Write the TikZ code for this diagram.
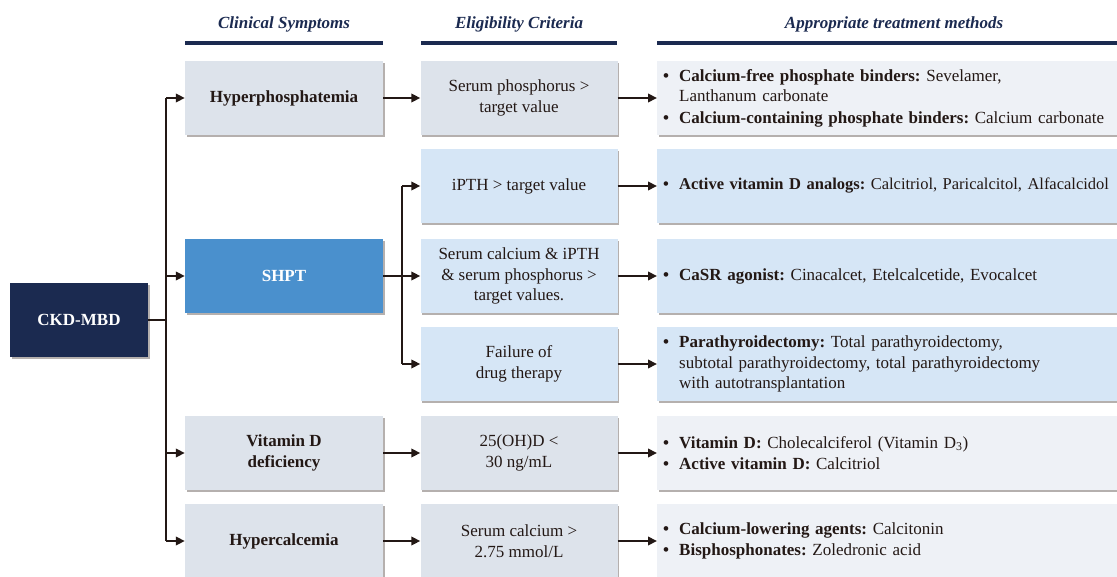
\documentclass[tikz,border=0pt]{standalone}
\usepackage{fontspec}
\setmainfont{Liberation Serif}
\usepackage{tikz}
\usetikzlibrary{calc}
\usetikzlibrary{arrows.meta}
\usetikzlibrary{shadows}

\definecolor{navy}{RGB}{27,42,80}
\definecolor{shptblue}{RGB}{74,144,205}
\definecolor{graybox}{RGB}{221,227,235}
\definecolor{bluebox}{RGB}{214,230,246}
\definecolor{palebox}{RGB}{238,241,246}
\definecolor{ink}{RGB}{35,24,21}
\definecolor{shade}{RGB}{90,80,75}

\frenchspacing
\newcommand\fs{\fontsize{17}{20.5}\selectfont}
\newcommand\bul{\makebox[16pt][l]{\textbf{\textbullet}}}
\newcommand\ind{\hspace*{16pt}}

\tikzset{
  box/.style={rectangle,minimum height=73.5pt,text=ink,align=center,inner sep=4pt,
    drop shadow={shadow xshift=1.5pt,shadow yshift=-2pt,opacity=.45,fill=shade}},
  symbox/.style={box,fill=graybox,minimum width=198pt,font=\fs\bfseries},
  critbox/.style={box,fill=graybox,minimum width=197pt,font=\fs},
  treatbox/.style={box,fill=palebox,anchor=west,inner xsep=6pt,text width=520pt,align=left,font=\fs},
  head/.style={text=navy,font=\fs\bfseries\itshape,anchor=base},
  link/.style={draw=ink,line width=2pt},
  arrow/.style={link,-{Triangle[length=9pt,width=8.5pt]}}
}

\begin{document}
\begin{tikzpicture}[x=1pt,y=-1pt]
\useasboundingbox (0,0) rectangle (1117,577);

\def\ra{98}
\def\rb{186}
\def\rc{276}
\def\rd{364}
\def\re{453}
\def\rf{541}

\node[head] (h1) at (284,29) {Clinical Symptoms};
\node[head] (h2) at (519,29) {Eligibility Criteria};
\node[head] (h3) at (894,29) {Appropriate treatment methods};
\fill[navy] (185,41) rectangle (383,45.5);
\fill[navy] (421,41) rectangle (617,45.5);
\fill[navy] (657,41) rectangle (1117,45.5);

\node[box,fill=navy,text=white,minimum width=138pt,font=\fs\bfseries] (ckd) at (79,320) {CKD-MBD};

\node[symbox] (hyper) at (284,\ra) {Hyperphosphatemia};
\node[symbox,fill=shptblue,text=white] (shpt) at (284,\rc) {SHPT};
\node[symbox] (vitd) at (284,\re) {Vitamin D\\deficiency};
\node[symbox] (hyperca) at (284,\rf) {Hypercalcemia};

\node[critbox] (crit1) at (519,\ra) {Serum phosphorus >\\target value};
\node[critbox,fill=bluebox] (crit2) at (519,\rb) {iPTH > target value};
\node[critbox,fill=bluebox] (crit3) at (519,\rc) {Serum calcium \& iPTH\\\& serum phosphorus >\\target values.};
\node[critbox,fill=bluebox] (crit4) at (519,\rd) {Failure of\\drug therapy};
\node[critbox] (crit5) at (519,\re) {25(OH)D <\\30 ng/mL};
\node[critbox] (crit6) at (519,\rf) {Serum calcium >\\2.75 mmol/L};

\node[treatbox] (treat1) at (657,\ra) {\bul\textbf{Calcium-free phosphate binders:} Sevelamer,\\\ind Lanthanum carbonate\\[1pt]
  \bul\textbf{Calcium-containing phosphate binders:} Calcium carbonate};
\node[treatbox,fill=bluebox,font=\fontsize{16.5}{20}\selectfont] (treat2) at (657,\rb) {\bul\textbf{Active vitamin D analogs:} Calcitriol, Paricalcitol, Alfacalcidol};
\node[treatbox,fill=bluebox] (treat3) at (657,\rc) {\bul\textbf{CaSR agonist:} Cinacalcet, Etelcalcetide, Evocalcet};
\node[treatbox,fill=bluebox] (treat4) at (657,\rd) {\bul\textbf{Parathyroidectomy:} Total parathyroidectomy,\\\ind subtotal parathyroidectomy, total parathyroidectomy\\\ind with autotransplantation};
\node[treatbox] (treat5) at (657,\re) {\bul\textbf{Vitamin D:} Cholecalciferol (Vitamin D\textsubscript{3})\\[1pt]
  \bul\textbf{Active vitamin D:} Calcitriol};
\node[treatbox] (treat6) at (657,\rf) {\bul\textbf{Calcium-lowering agents:} Calcitonin\\[1pt]
  \bul\textbf{Bisphosphonates:} Zoledronic acid};

\coordinate (trunk) at (166,0);
\coordinate (split) at (402,0);

\draw[link] (ckd.east) -- (ckd.east -| trunk);
\draw[link] (hyper.west -| trunk) -- (hyperca.west -| trunk);
\foreach \n in {hyper,shpt,vitd,hyperca}
  \draw[arrow] (\n.west -| trunk) -- (\n.west);

\draw[arrow] (hyper.east) -- (crit1.west);
\draw[arrow] (shpt.east) -- (crit3.west);
\draw[arrow] (vitd.east) -- (crit5.west);
\draw[arrow] (hyperca.east) -- (crit6.west);
\draw[link] (crit2.west -| split) -- (crit4.west -| split);
\foreach \n in {crit2,crit4}
  \draw[arrow] (\n.west -| split) -- (\n.west);

\foreach \i in {1,...,6}
  \draw[arrow] (crit\i.east) -- (treat\i.west);

\end{tikzpicture}
\end{document}
